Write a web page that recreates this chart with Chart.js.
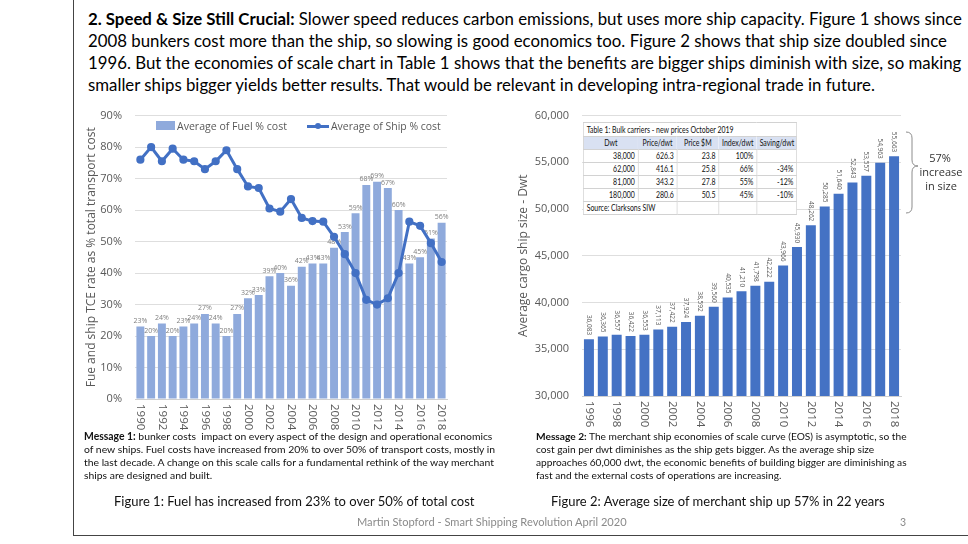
<!DOCTYPE html>
<html>
<head>
<meta charset="utf-8">
<script src="https://cdn.jsdelivr.net/npm/chart.js@4.4.1/dist/chart.umd.min.js"></script>
<style>
html,body{margin:0;padding:0;background:#fff;}
body{width:968px;height:544px;position:relative;overflow:hidden;font-family:Lato,"Open Sans",sans-serif;color:#000;}
.t{position:absolute;white-space:nowrap;line-height:1.15;transform:translateY(-50%);}
canvas{position:absolute;}
#tw{position:absolute;left:583px;top:122px;transform-origin:0 0;}
#tbl{border-collapse:collapse;table-layout:fixed;background:#fff;font-family:Lato,sans-serif;font-size:9.5px;color:#111;border:1px solid #c8c8c8;}
#tbl td{border:1px solid #d2d2d2;padding:0 4px;height:12px;line-height:12px;overflow:hidden;white-space:nowrap;text-align:right;}
#tbl tr.hd td{background:#d9e1f2;text-align:center;border-left:none;border-right:none;}
#tbl tr.tt td{text-align:left;height:13px;}
#tbl tr.src td:first-child{text-align:left;}
.vline{position:absolute;background:#444;}
</style>
</head>
<body>
<div class="vline" style="left:73px;top:0;width:1px;height:535px;"></div>
<div class="vline" style="left:73px;top:535px;width:895px;height:1px;"></div>

<div class="t" data-g="title" data-w="874" style="left:88px;top:19px;font-size:16px;"><b>2. Speed &amp; Size Still Crucial:</b> Slower speed reduces carbon emissions, but uses more ship capacity. Figure 1 shows since</div>
<div class="t" data-g="title" style="left:88px;top:41px;font-size:16px;">2008 bunkers cost more than the ship, so slowing is good economics too. Figure 2 shows that ship size doubled since</div>
<div class="t" data-g="title" style="left:88px;top:63px;font-size:16px;">1996. But the economies of scale chart in Table 1 shows that the benefits are bigger ships diminish with size, so making</div>
<div class="t" data-g="title" style="left:88px;top:85px;font-size:16px;">smaller ships bigger yields better results. That would be relevant in developing intra-regional trade in future.</div>

<canvas id="c1" width="384" height="340" style="left:76px;top:96px;"></canvas>
<canvas id="c2" width="410" height="340" style="left:510px;top:96px;"></canvas>

<!-- legend of figure 1 -->
<div style="position:absolute;left:156px;top:121px;width:19px;height:9px;background:#8faadc;"></div>
<div class="t" data-w="110" style="left:177px;top:126px;font-size:10px;color:#595959;font-family:'Open Sans';">Average of Fuel % cost</div>
<div style="position:absolute;left:307px;top:124.5px;width:22px;height:3px;background:#4270c4;"></div>
<div style="position:absolute;left:315px;top:123px;width:6px;height:6px;border-radius:50%;background:#4270c4;"></div>
<div class="t" data-w="110" style="left:331px;top:126px;font-size:10px;color:#595959;font-family:'Open Sans';">Average of Ship % cost</div>

<div id="tw">
<table id="tbl">
<colgroup><col style="width:25.7%"><col style="width:18.2%"><col style="width:19.6%"><col style="width:17.8%"><col style="width:18.7%"></colgroup>
<tbody id="tbody"></tbody>
</table>
</div>

<svg style="position:absolute;left:0;top:0;" width="968" height="544">
<path d="M906 132 Q912 132 912 138 L912 160 Q912 166 918 166 Q912 166 912 172 L912 207 Q912 213 906 213" fill="none" stroke="#8c8c8c" stroke-width="1"/>
</svg>
<div class="t" style="left:940px;top:158px;font-size:11px;color:#333;font-family:'Open Sans';transform:translate(-50%,-50%);">57%</div>
<div class="t" style="left:941px;top:172px;font-size:11px;color:#333;font-family:'Open Sans';transform:translate(-50%,-50%);">increase</div>
<div class="t" style="left:941px;top:186px;font-size:11px;color:#333;font-family:'Open Sans';transform:translate(-50%,-50%);">in size</div>

<div class="t" data-g="m1" data-w="409" style="left:84px;top:437px;font-size:10px;color:#111;"><b>Message 1:</b> bunker costs&nbsp; impact on every aspect of the design and operational economics</div>
<div class="t" data-g="m1" style="left:84px;top:450px;font-size:10px;color:#111;">of new ships. Fuel costs have increased from 20% to over 50% of transport costs, mostly in</div>
<div class="t" data-g="m1" style="left:84px;top:463px;font-size:10px;color:#111;">the last decade. A change on this scale calls for a fundamental rethink of the way merchant</div>
<div class="t" data-g="m1" style="left:84px;top:476px;font-size:10px;color:#111;">ships are designed and built.</div>

<div class="t" data-g="m2" data-w="371" style="left:536px;top:437px;font-size:10px;color:#111;"><b>Message 2:</b> The merchant ship economies of scale curve (EOS) is asymptotic, so the</div>
<div class="t" data-g="m2" style="left:536px;top:450px;font-size:10px;color:#111;">cost gain per dwt diminishes as the ship gets bigger. As the average ship size</div>
<div class="t" data-g="m2" style="left:536px;top:463px;font-size:10px;color:#111;">approaches 60,000 dwt, the economic benefits of building bigger are diminishing as</div>
<div class="t" data-g="m2" style="left:536px;top:476px;font-size:10px;color:#111;">fast and the external costs of operations are increasing.</div>

<div class="t" data-w="361" style="left:114px;top:501px;font-size:13px;color:#111;">Figure 1: Fuel has increased from 23% to over 50% of total cost</div>
<div class="t" data-w="334" style="left:551px;top:501px;font-size:13px;color:#111;">Figure 2: Average size of merchant ship up 57% in 22 years</div>
<div class="t" data-w="270" style="left:357px;top:522px;font-size:10.5px;color:#8a8a8a;">Martin Stopford - Smart Shipping Revolution April 2020</div>
<div class="t" style="left:900px;top:522px;font-size:10.5px;color:#8a8a8a;">3</div>

<script>
// ---------- data ----------
const fuelYears = ['1990','1991','1992','1993','1994','1995','1996','1997','1998','1999','2000','2001','2002','2003','2004','2005','2006','2007','2008','2009','2010','2011','2012','2013','2014','2015','2016','2017','2018'];
const fuelPct = [23,20,24,20,23,24,27,24,20,27,32,33,39,40,36,42,43,43,48,53,59,68,69,67,60,43,45,51,56];
const shipPct = [76,80,75.5,79.5,76,75.5,73,75.5,79,73,67.5,67,60.5,59.5,63.5,57.5,56.5,56.3,51.5,46,40,31.5,30,32,40,56.3,55,49.5,43.5];

const sizeYears = ['1996','1997','1998','1999','2000','2001','2002','2003','2004','2005','2006','2007','2008','2009','2010','2011','2012','2013','2014','2015','2016','2017','2018'];
const avgDwt = [36083,36365,36557,36422,36553,37113,37422,37924,38592,39560,40535,41210,41798,42222,43966,45930,48262,50285,51640,52843,53557,54963,55663];

const tableTitle = 'Table 1: Bulk carriers - new prices October 2019';
const tableHead = ['Dwt','Price/dwt','Price $M','Index/dwt','Saving/dwt'];
const tableDwt = ['38,000','62,000','81,000','180,000'];
const tablePricePerDwt = ['626.3','416.1','343.2','280.6'];
const tablePriceM = ['23.8','25.8','27.8','50.5'];
const tableIndex = ['100%','66%','55%','45%'];
const tableSaving = ['','-34%','-12%','-10%'];
const tableSource = 'Source: Clarksons SIW';

// ---------- table ----------
(function(){
  const tb = document.getElementById('tbody');
  let h = '<tr class="tt"><td colspan="5"><span id="ttl">'+tableTitle+'</span></td></tr>';
  h += '<tr class="hd">' + tableHead.map(s=>'<td>'+s+'</td>').join('') + '</tr>';
  for (let i=0;i<tableDwt.length;i++){
    h += '<tr>' + [tableDwt[i],tablePricePerDwt[i],tablePriceM[i],tableIndex[i],tableSaving[i]].map(s=>'<td>'+s+'</td>').join('') + '</tr>';
  }
  h += '<tr class="src"><td colspan="2">'+tableSource+'</td><td></td><td></td><td></td></tr>';
  tb.innerHTML = h;
  const tw = document.getElementById('ttl').getBoundingClientRect().width;
  const s = 147 / tw;
  const tbl = document.getElementById('tbl');
  tbl.style.width = (214 / s) + 'px';
  document.getElementById('tw').style.transform = 'scaleX(' + s + ')';
})();

// ---------- text fitting ----------
document.querySelectorAll('[data-w]').forEach(el=>{
  const w = el.getBoundingClientRect().width;
  const fs = parseFloat(getComputedStyle(el).fontSize);
  const nfs = fs * (+el.dataset.w) / w;
  const g = el.dataset.g;
  if (g) document.querySelectorAll('[data-g="'+g+'"]').forEach(e=>e.style.fontSize = nfs+'px');
  else el.style.fontSize = nfs+'px';
});

// ---------- plugins ----------
function rotXLabels(every, font, color, offset){
  return {
    id:'rotx',
    afterDraw(chart){
      const xs = chart.scales.x, ctx = chart.ctx;
      ctx.save();
      ctx.font = font; ctx.fillStyle = color; ctx.textAlign='left'; ctx.textBaseline='middle';
      chart.data.labels.forEach((lab,i)=>{
        if (i % every) return;
        const x = xs.getPixelForValue(i);
        ctx.save(); ctx.translate(x, xs.top + offset); ctx.rotate(Math.PI/2); ctx.fillText(lab,0,0); ctx.restore();
      });
      ctx.restore();
    }
  };
}
const fuelLabels = {
  id:'fuelLabels',
  afterDatasetDraw(chart,args){
    if (args.meta.type !== 'bar') return;
    const ctx = chart.ctx;
    ctx.save();
    ctx.font = '7px "Open Sans"'; ctx.fillStyle='#7f7f7f'; ctx.textAlign='center'; ctx.textBaseline='bottom';
    args.meta.data.forEach((bar,i)=>{ ctx.fillText(fuelPct[i]+'%', bar.x, bar.y-2); });
    ctx.restore();
  }
};
const sizeLabels = {
  id:'sizeLabels',
  afterDatasetDraw(chart,args){
    const ctx = chart.ctx;
    ctx.save();
    ctx.font = '6.5px "Open Sans"'; ctx.fillStyle='#595959'; ctx.textAlign='right'; ctx.textBaseline='middle';
    args.meta.data.forEach((bar,i)=>{
      ctx.save(); ctx.translate(bar.x, bar.y-4); ctx.rotate(Math.PI/2);
      ctx.fillText(avgDwt[i].toLocaleString('en-US'),0,0); ctx.restore();
    });
    ctx.restore();
  }
};

const tickFont = {family:'Open Sans', size:11};
const gridCol = '#dedede';

// ---------- Figure 1 ----------
new Chart(document.getElementById('c1'), {
  data:{
    labels: fuelYears,
    datasets:[
      {type:'line', label:'Average of Ship % cost', data: shipPct, borderColor:'#4270c4', backgroundColor:'#4270c4', borderWidth:3, pointRadius:2.6, pointHoverRadius:0, tension:0, order:0},
      {type:'bar', label:'Average of Fuel % cost', data: fuelPct, backgroundColor:'#8faadc', categoryPercentage:0.9, barPercentage:0.82, order:1}
    ]
  },
  options:{
    responsive:false, animation:false,
    layout:{padding:{top:14,right:13,bottom:3,left:0}},
    plugins:{legend:{display:false}, tooltip:{enabled:false}},
    scales:{
      x:{grid:{display:false}, border:{display:true,color:'#d0d0d0'}, ticks:{display:false}, afterFit:s=>{s.height=34;}},
      y:{min:0,max:90, ticks:{stepSize:10, callback:v=>v+'%', color:'#595959', font:tickFont, padding:13},
         grid:{color:gridCol, drawTicks:false}, border:{display:false},
         title:{display:true, text:'Fue and ship TCE rate as % total transport cost', color:'#595959', font:{family:'Open Sans', size:12}, padding:{top:8,bottom:0}},
         afterFit:s=>{s.width=59;}}
    }
  },
  plugins:[fuelLabels, rotXLabels(2,'11.5px "Open Sans"','#595959',5)]
});

// ---------- Figure 2 ----------
new Chart(document.getElementById('c2'), {
  type:'bar',
  data:{labels:sizeYears, datasets:[{label:'Average cargo ship size', data:avgDwt, backgroundColor:'#4472c4', categoryPercentage:0.9, barPercentage:0.8}]},
  options:{
    responsive:false, animation:false,
    layout:{padding:{top:13,right:19,bottom:6,left:0}},
    plugins:{legend:{display:false}, tooltip:{enabled:false}},
    scales:{
      x:{grid:{display:false}, border:{display:true,color:'#d0d0d0'}, ticks:{display:false}, afterFit:s=>{s.height=34;}},
      y:{min:30000,max:60000, ticks:{stepSize:5000, callback:v=>v.toLocaleString('en-US'), color:'#595959', font:tickFont, padding:13},
         grid:{color:gridCol, drawTicks:false}, border:{display:false},
         title:{display:true, text:'Average cargo ship size - Dwt', color:'#595959', font:{family:'Open Sans', size:12}, padding:{top:6,bottom:0}},
         afterFit:s=>{s.width=72;}}
    }
  },
  plugins:[sizeLabels, rotXLabels(2,'11.5px "Open Sans"','#595959',5)]
});
</script>
</body>
</html>
